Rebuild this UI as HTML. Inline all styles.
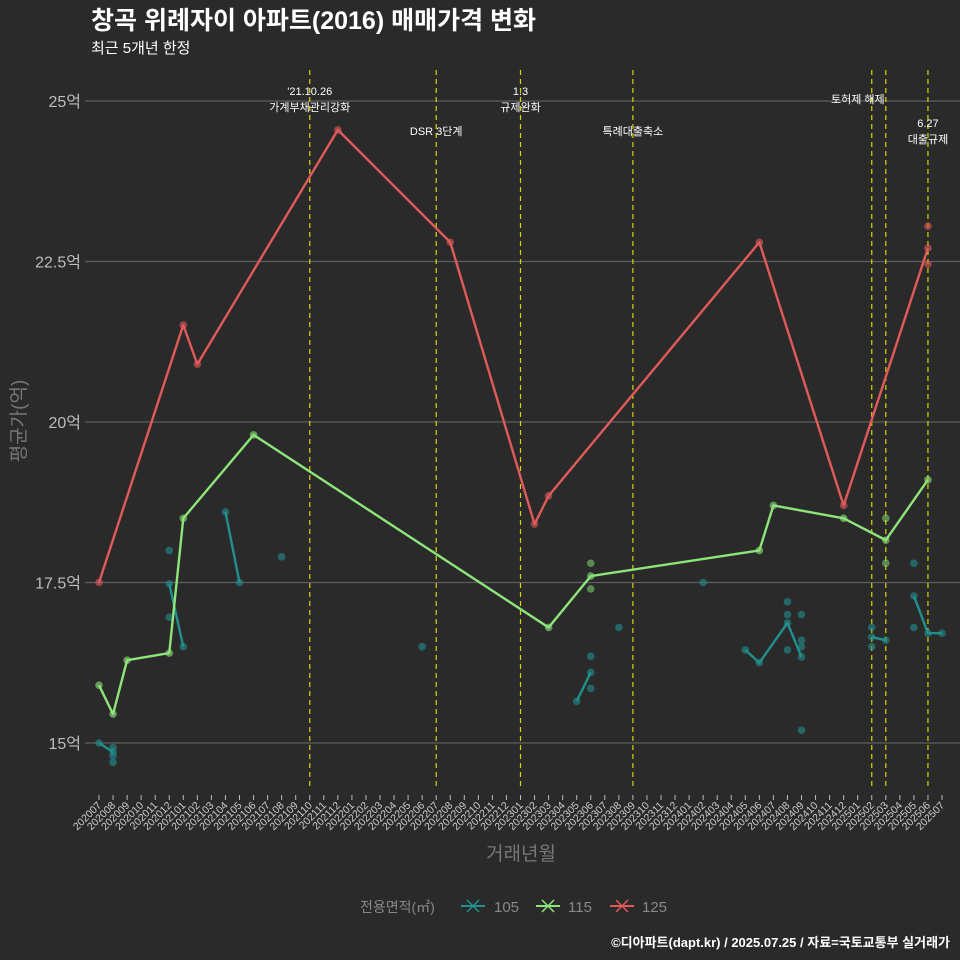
<!DOCTYPE html>
<html><head><meta charset="utf-8"><style>
html,body{margin:0;padding:0;background:#2b2a2b;}
svg{display:block;font-family:"Liberation Sans","Noto Sans CJK KR",sans-serif;}
</style></head><body>
<svg id="c" width="960" height="960" viewBox="0 0 960 960">
<rect width="960" height="960" fill="#2b2a2b"/>
<text x="91" y="29" font-size="25" font-weight="bold" fill="#ffffff">창곡 위례자이 아파트(2016) 매매가격 변화</text>
<text x="91" y="53" font-size="15" fill="#ffffff">최근 5개년 한정</text>
<text transform="translate(25,421) rotate(-90)" text-anchor="middle" font-size="19" fill="#777">평균가(억)</text>
<text x="521" y="860" text-anchor="middle" font-size="19" fill="#777">거래년월</text>
<g id="grid"></g><g id="events"></g><g id="series"></g><g id="xaxis"></g>
<g>
<text x="360" y="912" font-size="14" fill="#888">전용면적(㎡)</text>
<g><line x1="461" y1="906" x2="485" y2="906" stroke="#21908d" stroke-width="2"/><line x1="467" y1="900" x2="479" y2="912" stroke="#21908d" stroke-width="1.5"/><line x1="467" y1="912" x2="479" y2="900" stroke="#21908d" stroke-width="1.5"/><text x="494" y="912" font-size="15" fill="#888">105</text></g>
<g><line x1="536" y1="906" x2="560" y2="906" stroke="#8de57a" stroke-width="2"/><line x1="542" y1="900" x2="554" y2="912" stroke="#8de57a" stroke-width="1.5"/><line x1="542" y1="912" x2="554" y2="900" stroke="#8de57a" stroke-width="1.5"/><text x="568" y="912" font-size="15" fill="#888">115</text></g>
<g><line x1="610" y1="906" x2="634" y2="906" stroke="#e05a5a" stroke-width="2"/><line x1="616" y1="900" x2="628" y2="912" stroke="#e05a5a" stroke-width="1.5"/><line x1="616" y1="912" x2="628" y2="900" stroke="#e05a5a" stroke-width="1.5"/><text x="642" y="912" font-size="15" fill="#888">125</text></g>
</g>
<text x="950" y="947" text-anchor="end" font-size="13" font-weight="bold" fill="#ffffff">©디아파트(dapt.kr) / 2025.07.25 / 자료=국토교통부 실거래가</text>
</svg>
<script>
const yTicks=[15,17.5,20,22.5,25];
const yTickLabels=["15억","17.5억","20억","22.5억","25억"];
const s125Months=["202007","202101","202102","202112","202208","202302","202303","202406","202412","202506"];
const s125Vals=[17.5,21.51,20.9,24.55,22.8,18.41,18.85,22.8,18.7,22.71];
const s125ExtraMonths=["202506","202506"];
const s125ExtraVals=[23.05,22.46];
const s115Months=["202007","202008","202009","202012","202101","202106","202303","202306","202406","202407","202412","202503","202506"];
const s115Vals=[15.9,15.45,16.29,16.4,18.5,19.8,16.8,17.6,18.0,18.7,18.5,18.16,19.1];
const s115ExtraMonths=["202306","202306","202503","202503"];
const s115ExtraVals=[17.8,17.4,18.5,17.8];
const s105Segs=[
 {m:["202007","202008"],v:[15.0,14.86]},
 {m:["202012","202101"],v:[17.48,16.5]},
 {m:["202104","202105"],v:[18.6,17.5]},
 {m:["202108"],v:[17.9]},
 {m:["202206"],v:[16.5]},
 {m:["202305","202306"],v:[15.65,16.1]},
 {m:["202308"],v:[16.8]},
 {m:["202402"],v:[17.5]},
 {m:["202405","202406","202408","202409"],v:[16.45,16.25,16.87,16.34]},
 {m:["202502","202503"],v:[16.65,16.6]},
 {m:["202505","202506","202507"],v:[17.29,16.71,16.71]}];
const s105ExtraMonths=["202008","202008","202008","202012","202012","202306","202306","202408","202408","202408","202409","202409","202409","202409","202502","202502","202505","202505"];
const s105ExtraVals=[14.93,14.8,14.7,18.0,16.96,16.35,15.85,17.2,17.0,16.45,17.0,16.6,16.5,15.2,16.8,16.5,17.8,16.8];
const eventMonths=["202110","202207","202301","202309","202502","202503","202506"];
const eventLabels=[["'21.10.26","가계부채관리강화"],["DSR 3단계"],["1.3","규제완화"],["특례대출축소"],[],["토허제 해제"],["6.27","대출규제"]];
const eventLabelY=[91,131,91,131,0,99,123];

const NS="http://www.w3.org/2000/svg";
const months=[];for(let y=2020;y<=2025;y++)for(let m=1;m<=12;m++){const k=y*100+m;if(k>=202007&&k<=202507)months.push(String(k));}
const X0=99,X1=942,Y15=743,PX=64.2;
function xs(m){return X0+months.indexOf(m)*(X1-X0)/(months.length-1);}
function ys(v){return Y15-(v-15)*PX;}
function mk(t,a,p){const e=document.createElementNS(NS,t);for(const k in a)e.setAttribute(k,a[k]);p.appendChild(e);return e;}
const grid=document.getElementById('grid');
yTicks.forEach((t,i)=>{
 const l=mk('line',{x1:85,x2:960,y1:ys(t),y2:ys(t),stroke:'#5e5e5e','stroke-width':1.2},grid);
 
 
 const tx=mk('text',{x:81,y:ys(t)+6,'text-anchor':'end','font-size':16,fill:'#bdbdbd'},grid);
 tx.textContent=yTickLabels[i];
 
 
});
const ev=document.getElementById('events');
eventMonths.forEach((m,i)=>{
 const x=xs(m);
 const l=mk('line',{x1:x,x2:x,y1:70,y2:790,stroke:'#d6d600','stroke-width':1.2,'stroke-dasharray':'5,4'},ev);
 
 
 eventLabels[i].forEach((s,j)=>{
  let cx=x; if(m==="202503") cx=x-28;
  const t=mk('text',{x:cx,y:eventLabelY[i]+j*16+4,'text-anchor':'middle','font-size':11,fill:'#ffffff'},ev);
  t.textContent=s;
  
  
 });
});
const sg=document.getElementById('series');
function line(ms,vs,col,name){
 if(ms.length<2)return;
 const p=mk('polyline',{points:ms.map((m,i)=>xs(m)+','+ys(vs[i])).join(' '),fill:'none',stroke:col,'stroke-width':2.4,'stroke-linejoin':'round'},sg);
 
 
}
function dots(ms,vs,col,name,op){
 ms.forEach((m,i)=>{
  const c=mk('circle',{cx:xs(m),cy:ys(vs[i]),r:3.8,fill:col,'fill-opacity':op},sg);
  
  
 });
}
const C105='#21908d',C115='#8de57a',C125='#e05a5a';
s105Segs.forEach(s=>{line(s.m,s.v,C105,'line-105');});
dots(s105ExtraMonths,s105ExtraVals,C105,'point-105',0.6);
s105Segs.forEach(s=>{dots(s.m,s.v,C105,'point-105',0.6);});
line(s115Months,s115Vals,C115,'line-115');
dots(s115Months,s115Vals,C115,'point-115',0.6);
dots(s115ExtraMonths,s115ExtraVals,C115,'point-115',0.5);
line(s125Months,s125Vals,C125,'line-125');
dots(s125Months,s125Vals,C125,'point-125',0.6);
dots(s125ExtraMonths,s125ExtraVals,C125,'point-125',0.6);
const xa=document.getElementById('xaxis');
months.forEach(m=>{
 const x=xs(m);
 const t=mk('line',{x1:x,x2:x,y1:795,y2:800,stroke:'#bbb','stroke-width':1},xa);
 
 
 const tx=mk('text',{x:x+3,y:806,'text-anchor':'end','font-size':10.5,fill:'#cccccc',transform:`rotate(-45 ${x+3} 806)`},xa);
 tx.textContent=m;
 
 
});
</script>
</body></html>
